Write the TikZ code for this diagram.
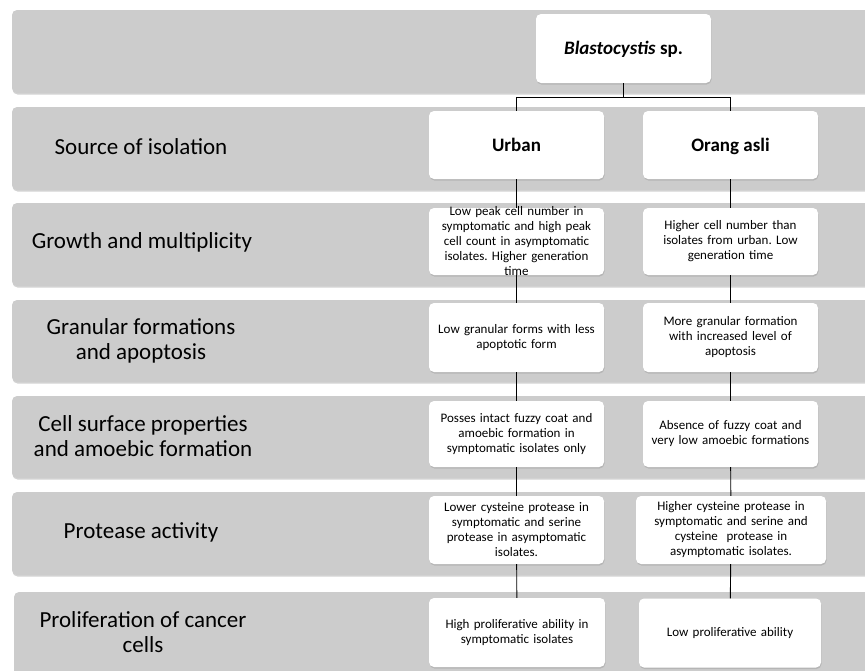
\documentclass[tikz,border=0pt]{standalone}
\usepackage{fontspec}
\setmainfont{Carlito}
\frenchspacing
\usetikzlibrary{shadows}
\definecolor{bandgray}{RGB}{204,204,204}
\begin{document}
\begin{tikzpicture}[x=1pt, y=-1pt,
	band/.style={fill=bandgray, rounded corners=5pt,
		drop shadow={shadow xshift=0.5pt, shadow yshift=-1.5pt, opacity=0.35}},
	head/.style={rectangle, rounded corners=5pt, fill=white,
		minimum width=175pt, minimum height=68pt,
		text height=14pt, text depth=2pt,
		font=\fontsize{19}{22}\selectfont\bfseries,
		drop shadow={shadow xshift=0.5pt, shadow yshift=-1.5pt, opacity=0.3}},
	info/.style={rectangle, rounded corners=5pt, fill=white,
		text width=165pt, inner xsep=5pt, align=center, minimum height=68pt,
		font=\fontsize{13}{15}\selectfont,
		drop shadow={shadow xshift=0.5pt, shadow yshift=-1.5pt, opacity=0.3}},
	rowlabel/.style={align=center, font=\fontsize{23}{25}\selectfont},
	link/.style={draw=black, line width=0.9pt}]
	\useasboundingbox (0,0) rectangle (865,670);
	% rows
	\fill[band] (12,10) rectangle (885,93);
	\fill[band] (12,107) rectangle (885,190);
	\fill[band] (12,203) rectangle (885,286);
	\fill[band] (12,300) rectangle (885,382);
	\fill[band] (12,396) rectangle (885,478);
	\fill[band] (12,492) rectangle (885,575);
	\fill[band] (14,592) rectangle (885,690);
	% row labels
	\node[rowlabel] (l1) at (141,147) {Source of isolation};
	\node[rowlabel] (l2) at (142,242) {Growth and multiplicity};
	\node[rowlabel] (l3) at (141,341) {Granular formations\\and apoptosis};
	\node[rowlabel] (l4) at (143,436) {Cell surface properties\\and amoebic formation};
	\node[rowlabel] (l5) at (141,532) {Protease activity};
	\node[rowlabel] (l6) at (143,632) {Proliferation of cancer\\cells};
	% tree
	\node[head, minimum height=69pt] (b) at (623.5,48.5) {\textit{Blastocystis} sp.};
	\node[head] (u0) at (516.5,145) {Urban};
	\node[head] (o0) at (730.5,145) {Orang asli};
	\node[info, minimum height=67pt] (u1) at (516.5,241.5)
		{\begin{minipage}[c][40pt][c]{165pt}\centering Low peak cell number in\\symptomatic and high peak\\cell count in asymptomatic\\isolates. Higher generation\\time\end{minipage}};
	\node[info, minimum height=67pt] (o1) at (730.5,241.5) {Higher cell number than\\isolates from urban. Low\\generation time};
	\node[info, minimum height=69pt] (u2) at (516.5,337.5) {Low granular forms with less\\apoptotic form};
	\node[info, minimum height=69pt] (o2) at (730.5,337.5) {More granular formation\\with increased level of\\apoptosis};
	\node[info, minimum height=66pt] (u3) at (516.5,434) {Posses intact fuzzy coat and\\amoebic formation in\\symptomatic isolates only};
	\node[info, minimum height=66pt] (o3) at (730.5,434) {Absence of fuzzy coat and\\very low amoebic formations};
	\node[info] (u4) at (516.5,530) {Lower cysteine protease in\\symptomatic and serine\\protease in asymptomatic\\isolates.};
	\node[info, text width=180pt] (o4) at (731,530) {Higher cysteine protease in\\symptomatic and serine and\\cysteine~~protease in\\asymptomatic isolates.};
	\node[info, text width=166pt, minimum height=69pt] (u5) at (517,632.5) {High proliferative ability in\\symptomatic isolates};
	\node[info, text width=172pt, minimum height=69pt] (o5) at (730,633) {Low proliferative ability};
	\coordinate (fork) at (623.5,97);
	\draw[link] (b.south) -- (fork) -| (u0.north);
	\draw[link] (fork) -| (o0.north);
	\draw[link]
		(u0) -- (u1) (u1) -- (u2) (u2) -- (u3) (u3) -- (u4) (u4) -- (u5)
		(o0) -- (o1) (o1) -- (o2) (o2) -- (o3) (o3) -- (o4) (o4) -- (o5);
\end{tikzpicture}
\end{document}
